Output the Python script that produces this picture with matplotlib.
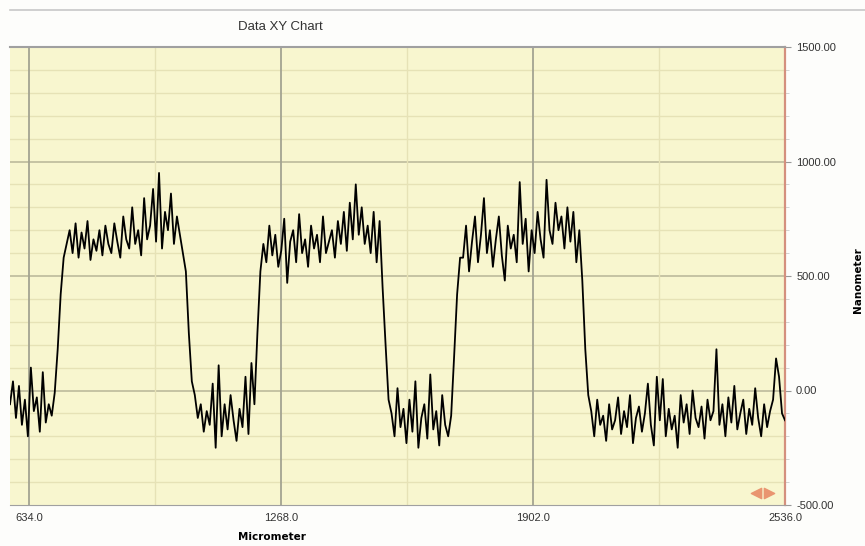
import numpy as np
import matplotlib
matplotlib.use("Agg")
import matplotlib.pyplot as plt
from matplotlib.lines import Line2D
from matplotlib.ticker import FormatStrFormatter, MultipleLocator

# profile, one value every 7.5 micrometer from x_start
x_start = 586.0
x_step = 7.5
height_nm = [
    # low 0
    -60, 40, -120, 20, -150, -40, -200, 100, -90, -30, -180, 80, -140, -60, -110, -10,
    # rise
    180, 420, 580,
    # plateau 1
    640, 700, 600, 730, 580, 690, 620, 740, 570, 660,
    610, 700, 590, 720, 640, 600, 730, 650, 580, 760,
    660, 620, 800, 640, 700, 590, 840, 660, 720, 880,
    650, 950, 620, 780, 700, 860, 640, 760, 680, 600,
    # fall
    520, 250, 40,
    # low 1
    -20, -120, -60, -180, -90, -150, 30, -250, 110, -200,
    -60, -170, -20, -130, -220, -80, -160, 60, -190, 120, -60,
    # rise
    250, 520,
    # plateau 2
    640, 560, 720, 590, 680, 540, 610, 750, 470, 650,
    700, 560, 770, 600, 660, 540, 720, 620, 680, 560,
    760, 600, 650, 700, 580, 740, 640, 780, 610, 820,
    660, 900, 680, 800, 640, 720, 600, 780, 560, 740,
    # fall
    450, 200, -40,
    # low 2
    -100, -200, 10, -160, -80, -230, -40, -180, 40, -250,
    -120, -60, -210, 70, -170, -90, -240, -20, -150, -200, -110,
    # rise
    150, 420, 580,
    # plateau 3
    580, 720, 520, 650, 760, 560, 680, 840, 600, 700,
    540, 660, 760, 590, 480, 720, 620, 680, 560, 910,
    640, 750, 520, 700, 600, 780, 660, 580, 920, 700,
    640, 820, 700, 760, 620, 800, 650, 780, 560, 700,
    # fall
    480, 180, -20,
    # low 3
    -90, -200, -40, -150, -110, -220, -60, -170, -130, -30,
    -190, -90, -160, -20, -230, -120, -70, -180, -100, 30,
    -150, -240, 60, -130, 50, -200, -80, -170, -110, -250,
    -20, -140, -60, -190, 0, -120, -160, -70, -210, -40,
    -130, -90, 180, -150, -60, -200, -30, -140, 20, -170,
    -100, -40, -190, -80, -150, 10, -120, -200, -60, -160,
    -90, -40, 140, 60, -100, -130,
]
x_ticks = [634.0, 1268.0, 1902.0, 2536.0]
x_minor = [951.0, 1585.0, 2219.0]
y_ticks = [-500, 0, 500, 1000, 1500]

x_um = x_start + x_step * np.arange(len(height_nm))

fig = plt.figure(figsize=(8.65, 5.46), dpi=100, facecolor="#fdfdfb")
ax = fig.add_axes([10 / 865, 1 - 505 / 546, 775 / 865, 458 / 546])
ax.set_facecolor("#f8f6cf")

# grid: light every 100 nm, darker at 500
for y in range(-400, 1500, 100):
    if y % 500 != 0:
        ax.axhline(y, color="#e6e2b6", lw=1.0, zorder=1)
for y in y_ticks[1:-1]:
    ax.axhline(y, color="#bdbb9c", lw=1.2, zorder=1)
for x in x_minor:
    ax.axvline(x, color="#e6e2b6", lw=1.0, zorder=1)
for x in x_ticks[:-1]:
    ax.axvline(x, color="#a3a391", lw=1.3, zorder=1)

ax.plot(x_um, height_nm, color="black", lw=1.3, zorder=3)

ax.set_xlim(x_start, 2536)
ax.set_ylim(-500, 1500)
ax.set_xticks(x_ticks)
ax.xaxis.set_major_formatter(FormatStrFormatter("%.1f"))
ax.yaxis.tick_right()
ax.set_yticks(y_ticks)
ax.yaxis.set_minor_locator(MultipleLocator(100))
ax.yaxis.set_major_formatter(FormatStrFormatter("%.2f"))
ax.tick_params(axis="x", length=0, pad=6, labelsize=8, labelcolor="#333333")
ax.tick_params(axis="y", which="major", length=4, color="#999999", pad=4,
               labelsize=8, labelcolor="#333333")
ax.tick_params(axis="y", which="minor", length=3, color="#cccccc")
for lab in ax.get_xticklabels() + ax.get_yticklabels():
    lab.set_fontfamily(["Liberation Sans", "DejaVu Sans"])

ax.spines["left"].set_visible(False)
ax.spines["top"].set_color("#a0a0a0")
ax.spines["top"].set_linewidth(1.5)
ax.spines["bottom"].set_color("#a0a0a0")
ax.spines["right"].set_color("#d4907e")
ax.spines["right"].set_linewidth(1.6)

# little orange scroll arrows at the bottom right
ax.scatter([0.963], [0.027], marker="<", s=55, color="#e99570",
           transform=ax.transAxes, zorder=4, clip_on=False)
ax.scatter([0.979], [0.027], marker=">", s=55, color="#e99570",
           transform=ax.transAxes, zorder=4, clip_on=False)

fig.add_artist(Line2D([10 / 865, 1], [1 - 10 / 546, 1 - 10 / 546],
                      transform=fig.transFigure, color="#c8c8c8", lw=1.2))
fig.text(280 / 865, 1 - 27 / 546, "Data XY Chart", ha="center", va="center",
         fontsize=9.5, color="#333333", family=["Liberation Sans", "DejaVu Sans"])
fig.text(272 / 865, 1 - 537 / 546, "Micrometer", ha="center", va="center",
         fontsize=7.5, fontweight="bold", color="black",
         family=["Liberation Sans Narrow", "DejaVu Sans"])
fig.text(858 / 865, 1 - 280 / 546, "Nanometer", ha="center", va="center",
         rotation=90, fontsize=7.5, fontweight="bold", color="black",
         family=["Liberation Sans Narrow", "DejaVu Sans"])

fig.savefig("out.png", dpi=100, facecolor=fig.get_facecolor())
